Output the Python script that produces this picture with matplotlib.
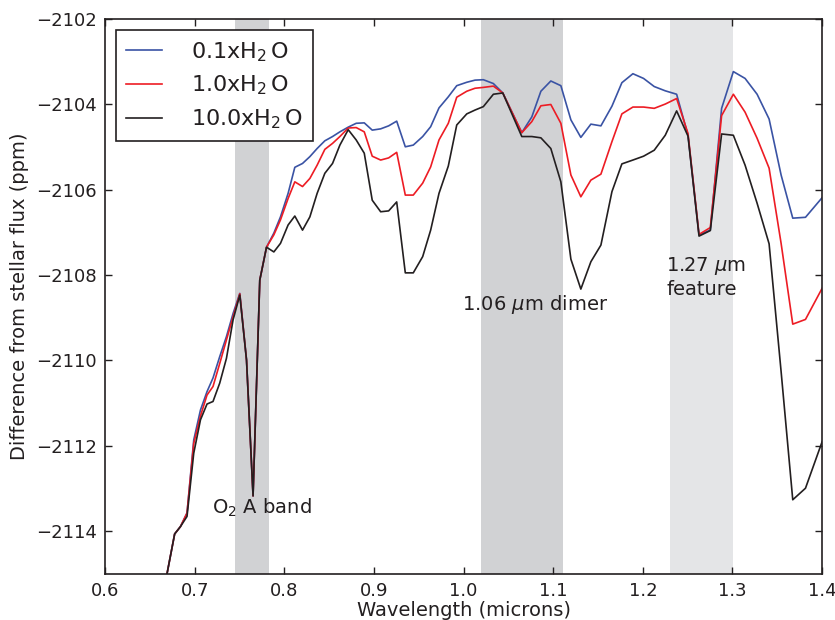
import matplotlib
matplotlib.use("Agg")
import matplotlib.pyplot as plt

# wavelength grid (microns)
wl = [0.6689, 0.6775, 0.6839, 0.6913, 0.6988, 0.7063, 0.7136, 0.7203, 0.7278, 0.7353,
      0.7427, 0.7502, 0.7577, 0.7650, 0.7725, 0.7800, 0.7882, 0.7956, 0.8041, 0.8116,
      0.8202, 0.8284, 0.8365, 0.8451, 0.8537, 0.8619, 0.8712, 0.8801, 0.8891, 0.8980,
      0.9074, 0.9163, 0.9253, 0.9349, 0.9438, 0.9543, 0.9632, 0.9725, 0.9829, 0.9923,
      1.0035, 1.0127, 1.0220, 1.0332, 1.0437, 1.0649, 1.0761, 1.0862, 1.0973, 1.1085,
      1.1197, 1.1308, 1.1420, 1.1532, 1.1655, 1.1766, 1.1889, 1.2008, 1.2127, 1.2250,
      1.2377, 1.2504, 1.2627, 1.2753, 1.2879, 1.3010, 1.3141, 1.3275, 1.3409, 1.3543,
      1.3673, 1.3815, 1.4001]

# 0.1 x H2O
h2o_01 = [-2115.00, -2114.06, -2113.89, -2113.57, -2111.86, -2111.16, -2110.73, -2110.41, -2109.91, -2109.44,
          -2108.90, -2108.43, -2109.99, -2113.17, -2108.12, -2107.35, -2107.02, -2106.64, -2106.09, -2105.48,
          -2105.39, -2105.23, -2105.04, -2104.86, -2104.76, -2104.65, -2104.54, -2104.45, -2104.44, -2104.61,
          -2104.58, -2104.51, -2104.40, -2105.00, -2104.96, -2104.76, -2104.53, -2104.09, -2103.83, -2103.57,
          -2103.49, -2103.44, -2103.43, -2103.52, -2103.74, -2104.67, -2104.30, -2103.70, -2103.46, -2103.57,
          -2104.37, -2104.78, -2104.47, -2104.51, -2104.05, -2103.50, -2103.29, -2103.40, -2103.59, -2103.69,
          -2103.77, -2104.73, -2107.06, -2106.95, -2104.10, -2103.24, -2103.40, -2103.77, -2104.35, -2105.66,
          -2106.67, -2106.65, -2106.19]

# 1.0 x H2O
h2o_1 = [-2115.00, -2114.06, -2113.89, -2113.57, -2111.94, -2111.30, -2110.81, -2110.61, -2110.07, -2109.52,
         -2108.98, -2108.44, -2109.99, -2113.17, -2108.12, -2107.35, -2107.06, -2106.71, -2106.21, -2105.82,
         -2105.93, -2105.74, -2105.43, -2105.06, -2104.92, -2104.76, -2104.56, -2104.55, -2104.65, -2105.22,
         -2105.31, -2105.26, -2105.13, -2106.13, -2106.13, -2105.85, -2105.47, -2104.84, -2104.45, -2103.84,
         -2103.70, -2103.63, -2103.61, -2103.58, -2103.74, -2104.67, -2104.41, -2104.04, -2104.01, -2104.45,
         -2105.66, -2106.17, -2105.78, -2105.64, -2104.88, -2104.23, -2104.07, -2104.07, -2104.10, -2104.00,
         -2103.87, -2104.69, -2107.05, -2106.89, -2104.27, -2103.77, -2104.19, -2104.80, -2105.50, -2107.26,
         -2109.15, -2109.04, -2108.31]

# 10.0 x H2O
h2o_10 = [-2115.00, -2114.06, -2113.89, -2113.65, -2112.17, -2111.39, -2111.02, -2110.96, -2110.53, -2109.95,
          -2109.05, -2108.47, -2109.99, -2113.17, -2108.12, -2107.35, -2107.46, -2107.26, -2106.83, -2106.62,
          -2106.95, -2106.64, -2106.09, -2105.62, -2105.39, -2104.96, -2104.60, -2104.84, -2105.15, -2106.25,
          -2106.52, -2106.50, -2106.29, -2107.95, -2107.95, -2107.57, -2106.95, -2106.09, -2105.45, -2104.49,
          -2104.23, -2104.14, -2104.06, -2103.77, -2103.74, -2104.76, -2104.76, -2104.79, -2105.04, -2105.82,
          -2107.63, -2108.33, -2107.69, -2107.30, -2106.05, -2105.40, -2105.31, -2105.22, -2105.08, -2104.73,
          -2104.16, -2104.75, -2107.09, -2106.96, -2104.70, -2104.73, -2105.43, -2106.32, -2107.27, -2110.26,
          -2113.26, -2112.99, -2111.90]

labels = [r'0.1xH$_2\,$O', r'1.0xH$_2\,$O', r'10.0xH$_2\,$O']
colors = ['#3a53a4', '#ed1c24', '#231f20']

# shaded bands (microns)
bands = [(0.745, 0.783, '#d1d2d4'), (1.019, 1.111, '#d1d2d4'), (1.23, 1.301, '#e4e5e7')]

ink = '#231f20'
plt.rcParams['font.family'] = 'DejaVu Sans'
plt.rcParams['text.color'] = ink
plt.rcParams['axes.labelcolor'] = ink
plt.rcParams['xtick.color'] = ink
plt.rcParams['ytick.color'] = ink

fig = plt.figure(figsize=(8.35, 6.2), dpi=100)
ax = fig.add_axes([0.126, 0.074, 0.8585, 0.896])

for lo, hi, c in bands:
    ax.axvspan(lo, hi, color=c, lw=0, zorder=0)

for y, lab, c in zip([h2o_01, h2o_1, h2o_10], labels, colors):
    ax.plot(wl, y, color=c, lw=1.2, label=lab)

ax.text(0.775, -2113.45, r'O$_2$ A band', fontsize=14, ha='center', va='center')
ax.text(1.0795, -2108.70, r'1.06 $\mu$m dimer', fontsize=14, ha='center', va='center')
ax.text(1.2262, -2108.05, '1.27 $\\mu$m\nfeature', fontsize=14, ha='left', va='center',
        multialignment='left')

ax.set_xlim(0.6, 1.4)
ax.set_ylim(-2115, -2102)
ax.set_xticks([0.6, 0.7, 0.8, 0.9, 1.0, 1.1, 1.2, 1.3, 1.4])
ax.set_yticks([-2114, -2112, -2110, -2108, -2106, -2104, -2102])
ax.tick_params(direction='in', top=True, right=True, length=5, width=1, labelsize=13, pad=6)
for s in ax.spines.values():
    s.set_color(ink)
    s.set_linewidth(1.2)

ax.set_xlabel('Wavelength (microns)', fontsize=14, labelpad=0.5)
ax.set_ylabel('Difference from stellar flux (ppm)', fontsize=14, labelpad=5)

leg = ax.legend(loc='upper left', bbox_to_anchor=(0.0154, 0.979), borderaxespad=0,
                fontsize=16, handlelength=1.6, handletextpad=1.3, borderpad=0.45,
                labelspacing=0.45, fancybox=False, framealpha=1, edgecolor=ink)
leg.get_frame().set_linewidth(1.2)

fig.savefig('out.png', dpi=100)
